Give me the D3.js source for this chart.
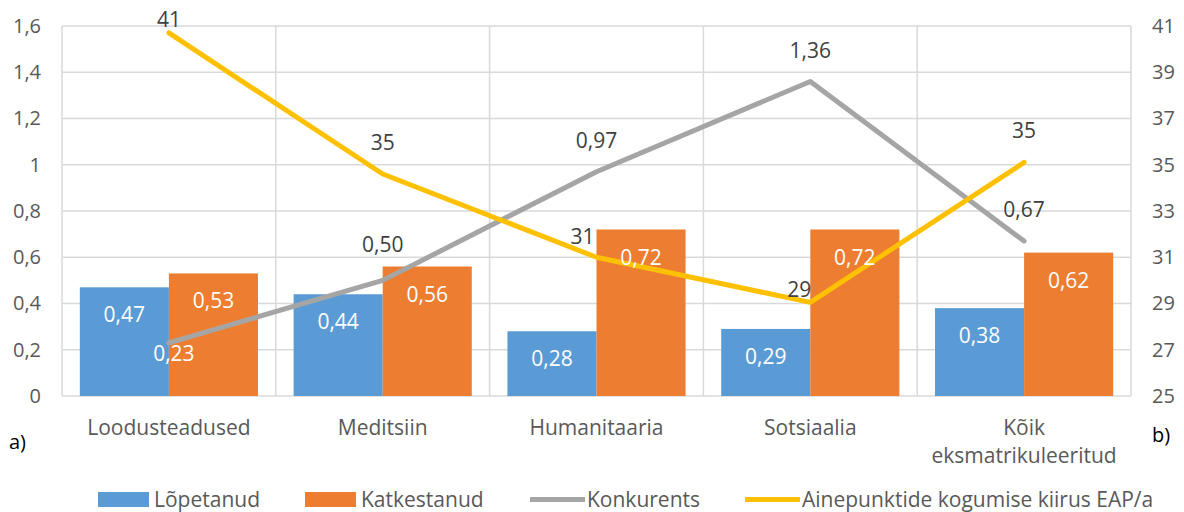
<!DOCTYPE html>
<html>
<head>
<meta charset="UTF-8">
<title>Lõpetanud / Katkestanud</title>
<style>
  body { margin: 0; background: #fff; }
  svg text { font-family: "Open Sans", sans-serif; }
</style>
</head>
<body>
<svg width="1184" height="512"></svg>
<script src="https://cdn.jsdelivr.net/npm/d3@7"></script>
<script>
// andmed
var categories = ["Loodusteadused", "Meditsiin", "Humanitaaria", "Sotsiaalia", "Kõik eksmatrikuleeritud"];
var lopetanud = [0.47, 0.44, 0.28, 0.29, 0.38];
var katkestanud = [0.53, 0.56, 0.72, 0.72, 0.62];
var konkurents = [0.23, 0.50, 0.97, 1.36, 0.67];
var kiirus = [40.7, 34.6, 31.0, 29.05, 35.1];
var leftTicks = [0, 0.2, 0.4, 0.6, 0.8, 1, 1.2, 1.4, 1.6];
var rightTicks = [25, 27, 29, 31, 33, 35, 37, 39, 41];
var seriesNames = ["Lõpetanud", "Katkestanud", "Konkurents", "Ainepunktide kogumise kiirus EAP/a"];

var colors = { blue: "#5B9BD5", orange: "#ED7D31", gray: "#A5A5A5", yellow: "#FFC000" };

var svg = d3.select("svg");
var m = { left: 62, right: 1131, top: 26, bottom: 396 };

var loc = d3.formatLocale({ decimal: ",", thousands: " ", grouping: [3], currency: ["", "€"] });
var fmt1 = loc.format(".1~f");
var fmt2 = loc.format(".2f");
var fmt0 = loc.format(".0f");

var x = d3.scaleBand().domain(categories).range([m.left, m.right]).padding(0);
var x1 = d3.scaleBand().domain(["l", "k"]).range([0, x.bandwidth()]).paddingInner(0).paddingOuter(0.2);
var yL = d3.scaleLinear().domain([0, 1.6]).range([m.bottom, m.top]);
var yR = d3.scaleLinear().domain([25, 41]).range([m.bottom, m.top]);

// ruudustik
var grid = svg.append("g").attr("stroke", "#D9D9D9").attr("stroke-width", 1.5);
grid.selectAll("line.h").data(leftTicks).enter().append("line")
  .attr("x1", m.left).attr("x2", m.right)
  .attr("y1", function(d){ return yL(d); }).attr("y2", function(d){ return yL(d); });
var bounds = categories.map(function(c){ return x(c); }).concat([m.right]);
grid.selectAll("line.v").data(bounds).enter().append("line")
  .attr("y1", m.top).attr("y2", m.bottom)
  .attr("x1", function(d){ return d; }).attr("x2", function(d){ return d; });

// teljed
var axL = svg.append("g").attr("transform", "translate(" + m.left + ",0)")
  .call(d3.axisLeft(yL).tickValues(leftTicks).tickFormat(fmt1).tickSize(0).tickPadding(21));
var axR = svg.append("g").attr("transform", "translate(" + m.right + ",0)")
  .call(d3.axisRight(yR).tickValues(rightTicks).tickFormat(fmt0).tickSize(0).tickPadding(21));
[axL, axR].forEach(function(a){
  a.select(".domain").remove();
  a.selectAll("text").attr("fill", "#595959").style("font-size", "20px");
});

// kategooriad
var catG = svg.append("g");
categories.forEach(function(c){
  var words = c === "Kõik eksmatrikuleeritud" ? ["Kõik", "eksmatrikuleeritud"] : [c];
  words.forEach(function(w, i){
    catG.append("text")
      .attr("x", x(c) + x.bandwidth() / 2)
      .attr("y", 435 + i * 28)
      .attr("text-anchor", "middle")
      .attr("fill", "#595959").style("font-size", "21px")
      .text(w);
  });
});

// tulbad
var bars = [{ key: "l", vals: lopetanud, color: colors.blue }, { key: "k", vals: katkestanud, color: colors.orange }];
bars.forEach(function(s){
  var g = svg.append("g");
  g.selectAll("rect").data(s.vals).enter().append("rect")
    .attr("x", function(d, i){ return x(categories[i]) + x1(s.key); })
    .attr("y", function(d){ return yL(d); })
    .attr("width", x1.bandwidth())
    .attr("height", function(d){ return yL(0) - yL(d); })
    .attr("fill", s.color);
});

// jooned
function drawLine(vals, yScale, color) {
  var line = d3.line()
    .x(function(d, i){ return x(categories[i]) + x.bandwidth() / 2; })
    .y(function(d){ return yScale(d); });
  svg.append("path").datum(vals)
    .attr("d", line)
    .attr("fill", "none")
    .attr("stroke", color)
    .attr("stroke-width", 5)
    .attr("stroke-linejoin", "round")
    .attr("stroke-linecap", "round");
}
drawLine(konkurents, yL, colors.gray);
drawLine(kiirus, yR, colors.yellow);

// tulpade sildid
bars.forEach(function(s){
  svg.append("g").selectAll("text").data(s.vals).enter().append("text")
    .attr("x", function(d, i){ return x(categories[i]) + x1(s.key) + x1.bandwidth() / 2; })
    .attr("y", function(d){ return yL(d) + 35; })
    .attr("text-anchor", "middle")
    .attr("fill", "#fff").style("font-size", "21px")
    .text(function(d){ return fmt2(d); });
});

// joonte sildid (nihked Exceli paigutuse järgi)
var grayOff = [[5, 18], [0, -28], [0, -24], [0, -24], [0, -24]];
var yellowOff = [[0, -6], [0, -24], [-14, -13], [-11, -5], [0, -24]];
function lineLabels(vals, yScale, off, f) {
  svg.append("g").selectAll("text").data(vals).enter().append("text")
    .attr("x", function(d, i){ return x(categories[i]) + x.bandwidth() / 2 + off[i][0]; })
    .attr("y", function(d, i){ return yScale(d) + off[i][1]; })
    .attr("text-anchor", "middle")
    .attr("fill", function(d, i){ return (f === fmt2 && i === 0) ? "#fff" : "#404040"; })
    .style("font-size", "21px")
    .text(function(d){ return f(d); });
}
lineLabels(konkurents, yL, grayOff, fmt2);
lineLabels(kiirus, yR, yellowOff, fmt0);

// a) ja b)
svg.append("text").attr("x", 9).attr("y", 449).attr("fill", "#000").style("font-size", "20px").text("a)");
svg.append("text").attr("x", 1152).attr("y", 442).attr("fill", "#000").style("font-size", "20px").text("b)");

// legend
var legX = [98, 305, 530, 745];
var leg = svg.append("g");
seriesNames.forEach(function(n, i){
  var c = [colors.blue, colors.orange, colors.gray, colors.yellow][i];
  if (i < 2) {
    leg.append("rect").attr("x", legX[i]).attr("y", 492).attr("width", 51).attr("height", 15).attr("fill", c);
  } else {
    leg.append("line").attr("x1", legX[i]).attr("x2", legX[i] + 55).attr("y1", 499.5).attr("y2", 499.5)
      .attr("stroke", c).attr("stroke-width", 5);
  }
  leg.append("text").attr("x", legX[i] + (i < 2 ? 56 : 57)).attr("y", 506.5)
    .attr("fill", "#595959").style("font-size", "21px").text(n);
});
</script>
</body>
</html>
